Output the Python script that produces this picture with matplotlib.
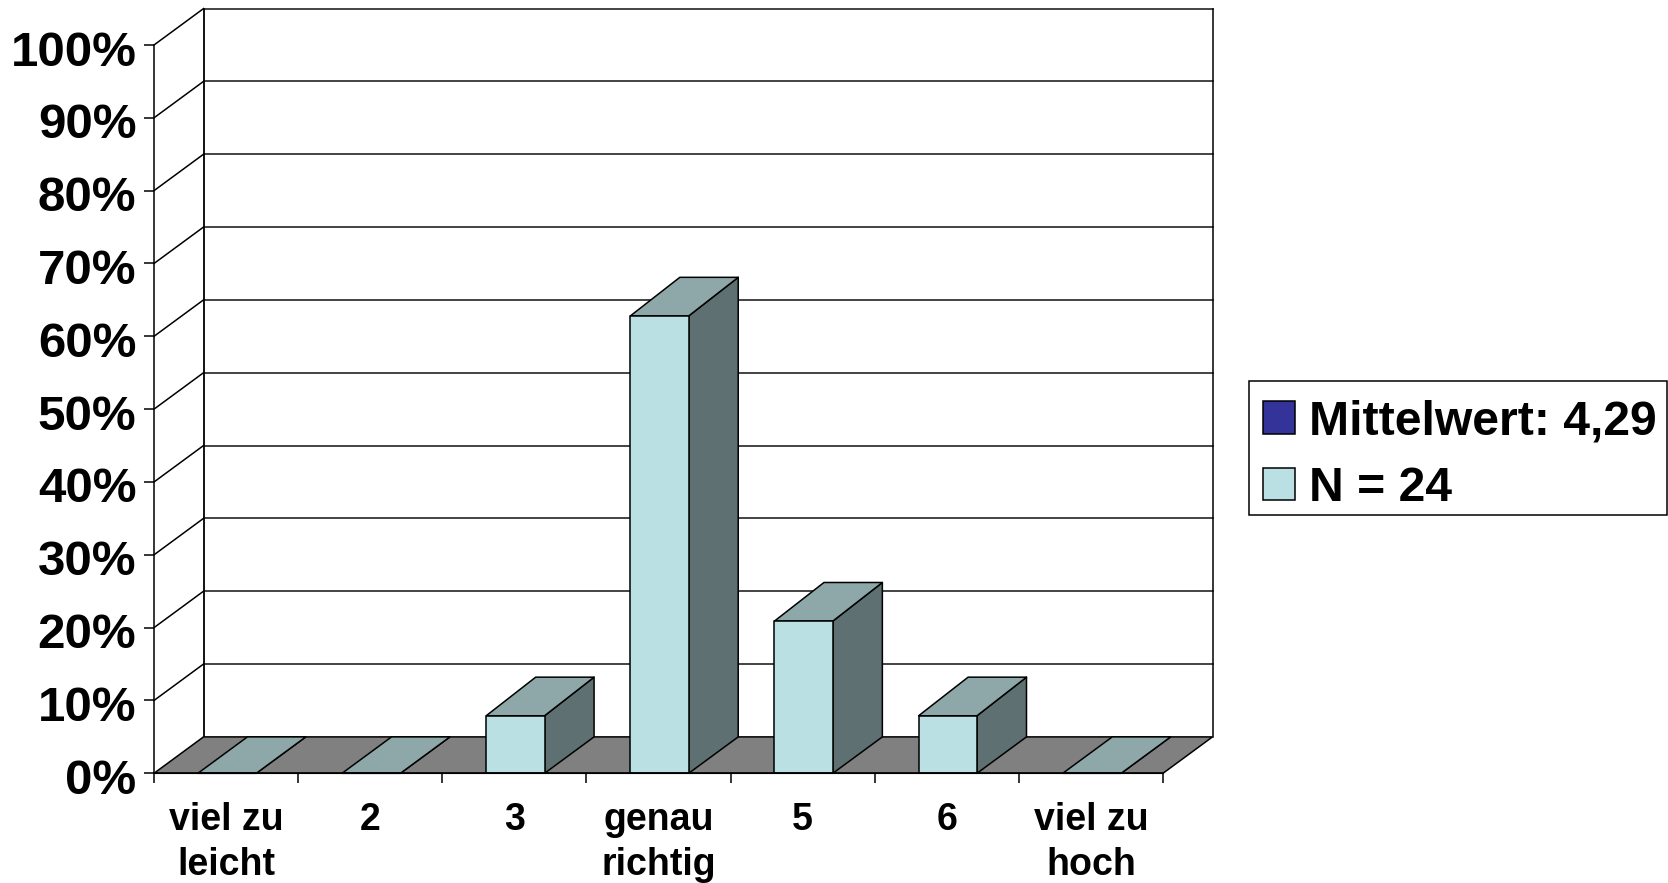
import matplotlib
matplotlib.use('Agg')
import matplotlib.pyplot as plt
from matplotlib.patches import Patch, Polygon, Rectangle
from matplotlib.transforms import ScaledTranslation

plt.rcParams['font.family'] = ['Liberation Sans', 'DejaVu Sans']
plt.rcParams['font.weight'] = 'bold'

categories = ['viel zu\nleicht', '2', '3', 'genau\nrichtig', '5', '6', 'viel zu\nhoch']
values = [0, 0, 7.9, 62.8, 20.9, 7.9, 0]
y_ticks = [0, 10, 20, 30, 40, 50, 60, 70, 80, 90, 100]
legend_labels = ['Mittelwert: 4,29', 'N = 24']

# colours of the faces
front_col = '#BBE0E3'
top_col = '#8EA8AA'
side_col = '#5E7072'
floor_col = '#808080'
mean_col = '#333399'

# depth of the fake 3d box in data units
dx = 0.3435
dy = 5.0
bar_dy = 5.3
bar_w = 0.405
lw = 1.1

W, H = 1668, 883
fig = plt.figure(figsize=(W / 100, H / 100), dpi=100)
ax = fig.add_axes([154 / W, 1 - 773.3 / H, 1009 / W, 728.3 / H])
n = len(categories)
ax.set_xlim(0, n)
ax.set_ylim(0, 100)

# back wall and grid
for t in y_ticks[1:]:
    ax.plot([dx, n + dx], [t + dy, t + dy], color='#111111', lw=lw, clip_on=False, zorder=1)
    ax.plot([0, dx], [t, t + dy], color='black', lw=lw, clip_on=False, zorder=1)
ax.plot([dx, dx], [dy, 100 + dy], color='black', lw=lw + 0.2, clip_on=False, zorder=1)
ax.plot([n + dx, n + dx], [dy, 100 + dy], color='black', lw=lw, clip_on=False, zorder=1)

# floor
ax.add_patch(Polygon([(0, 0), (n, 0), (n + dx, dy), (dx, dy)], facecolor=floor_col,
                     edgecolor='black', lw=lw, clip_on=False, zorder=2))

# bars
for i, v in enumerate(values):
    x0 = i + 0.507 - bar_w / 2
    x1 = x0 + bar_w
    d = bar_dy if v > 0 else dy
    style = dict(edgecolor='black', lw=lw, clip_on=False, zorder=3, joinstyle='round')
    ax.add_patch(Polygon([(x1, 0), (x1 + dx, dy), (x1 + dx, v + d), (x1, v)], facecolor=side_col, **style))
    ax.add_patch(Polygon([(x0, v), (x1, v), (x1 + dx, v + d), (x0 + dx, v + d)], facecolor=top_col, **style))
    ax.add_patch(Polygon([(x0, 0), (x1, 0), (x1, v), (x0, v)], facecolor=front_col, **style))

# axes
ax.set_facecolor('none')
for s in ['top', 'right']:
    ax.spines[s].set_visible(False)
for s in ['left', 'bottom']:
    ax.spines[s].set_linewidth(lw)
    ax.spines[s].set_zorder(4)
ax.set_yticks(y_ticks)
ax.set_yticklabels([f'{t}%' for t in y_ticks], fontsize=35.5, fontweight='bold')
ax.set_xticks(range(n + 1))
ax.set_xticklabels([])
ax.set_xticks([i + 0.5 for i in range(n)], minor=True)
ax.set_xticklabels(categories, minor=True, fontsize=27, fontweight='bold', linespacing=1.31)
ax.tick_params(axis='y', length=7.2, width=lw, pad=5.5)
ax.tick_params(axis='x', which='major', length=7.2, width=lw)
ax.tick_params(axis='x', which='minor', length=0, pad=20.7)

# labels sit a little below their ticks, has to come after tick_params
shift = ScaledTranslation(0, -3 / 100, fig.dpi_scale_trans)
for lab in ax.get_yticklabels():
    lab.set_transform(lab.get_transform() + shift)

# legend, box drawn apart because the text sits low in it
fig.add_artist(Rectangle((1249 / W, 1 - 515 / H), 418 / W, 134 / H, transform=fig.transFigure,
                         facecolor='white', edgecolor='black', lw=lw))
handles = [Patch(facecolor=mean_col, edgecolor='black', lw=lw),
           Patch(facecolor=front_col, edgecolor='black', lw=lw)]
leg = fig.legend(handles, legend_labels, loc='upper left', bbox_to_anchor=(1252 / W, 1 - 388.5 / H),
                 bbox_transform=fig.transFigure, fontsize=34.7, frameon=False,
                 handlelength=0.66, handleheight=0.66, handletextpad=0.29,
                 labelspacing=0.44, borderpad=0.23, borderaxespad=0)

fig.savefig('out.png', dpi=100, facecolor='white')
